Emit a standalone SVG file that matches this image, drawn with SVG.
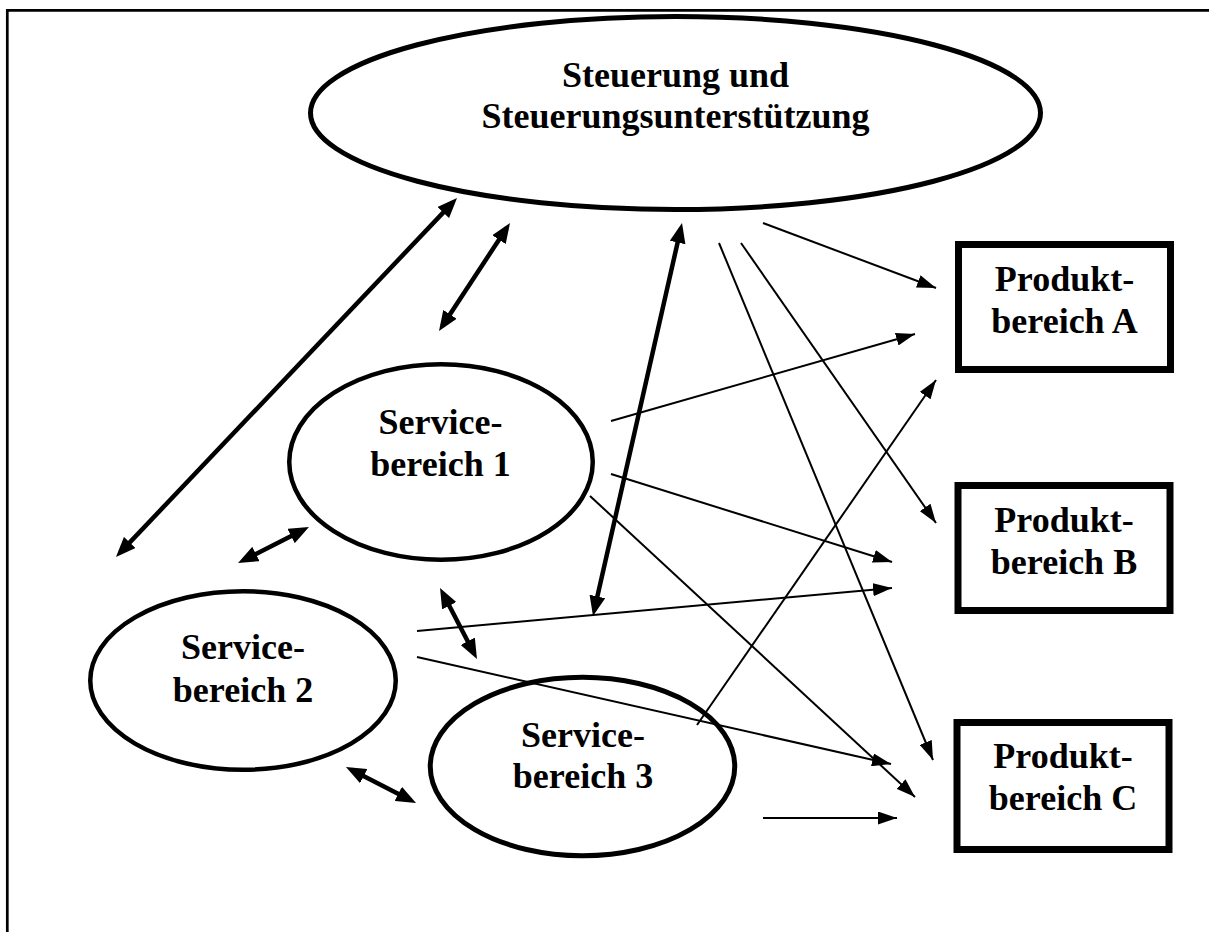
<svg xmlns="http://www.w3.org/2000/svg" width="1209" height="932" viewBox="0 0 1209 932">
<style>
.node{fill:none;stroke:#000}
.lbl{font-family:"Liberation Serif","Times New Roman",serif;font-weight:bold;font-size:36px;fill:#000;text-anchor:middle}
.thick{stroke:#000;fill:none;stroke-width:4.5}
.thin{stroke:#000;fill:none;stroke-width:2}
</style>
<defs>
<marker id="bh" markerUnits="userSpaceOnUse" markerWidth="20" markerHeight="16" refX="14" refY="8" orient="auto-start-reverse">
<path d="M0,0 L20,8 L0,16 z" fill="#000"/>
</marker>
<marker id="th" markerUnits="userSpaceOnUse" markerWidth="19" markerHeight="13" refX="19" refY="6.5" orient="auto">
<path d="M0,0 L19,6.5 L0,13 z" fill="#000"/>
</marker>
</defs>
<rect x="0" y="0" width="1209" height="932" fill="#fff"/>
<path d="M7.3,932 V10.3 H1209" fill="none" stroke="#000" stroke-width="2.7"/>

<g id="steuerung">
<ellipse class="node" cx="675.5" cy="113" rx="365" ry="96.5" stroke-width="5"/>
<text class="lbl" x="675.5" y="87">Steuerung und</text>
<text class="lbl" x="675.5" y="128">Steuerungsunterstützung</text>
</g>
<g id="service1">
<ellipse class="node" cx="441" cy="462" rx="151.75" ry="97.75" stroke-width="4.5"/>
<text class="lbl" x="440.5" y="434">Service-</text>
<text class="lbl" x="440.5" y="476">bereich 1</text>
</g>
<g id="service2">
<ellipse class="node" cx="243" cy="680.5" rx="152.75" ry="89.25" stroke-width="4.5"/>
<text class="lbl" x="243" y="659">Service-</text>
<text class="lbl" x="243" y="702">bereich 2</text>
</g>
<g id="service3">
<ellipse class="node" cx="582.5" cy="766.5" rx="152.25" ry="89.25" stroke-width="5"/>
<text class="lbl" x="583" y="747">Service-</text>
<text class="lbl" x="583" y="788">bereich 3</text>
</g>
<g id="produktA">
<rect class="node" x="958.5" y="244.5" width="212" height="125" stroke-width="7"/>
<text class="lbl" x="1064.5" y="291">Produkt-</text>
<text class="lbl" x="1064.5" y="333">bereich A</text>
</g>
<g id="produktB">
<rect class="node" x="958" y="485.5" width="212" height="125" stroke-width="7"/>
<text class="lbl" x="1064" y="532">Produkt-</text>
<text class="lbl" x="1064" y="574">bereich B</text>
</g>
<g id="produktC">
<rect class="node" x="957" y="722.5" width="212" height="127" stroke-width="7"/>
<text class="lbl" x="1063" y="768">Produkt-</text>
<text class="lbl" x="1063" y="810">bereich C</text>
</g>

<g id="connectors">
<line class="thick" x1="120.1" y1="552.6" x2="452.9" y2="202.4" marker-start="url(#bh)" marker-end="url(#bh)"/>
<line class="thick" x1="442.3" y1="326" x2="506.7" y2="228" stroke-width="4" marker-start="url(#bh)" marker-end="url(#bh)"/>
<line class="thick" x1="594.3" y1="610.1" x2="680.7" y2="228.9" stroke-width="5" marker-start="url(#bh)" marker-end="url(#bh)"/>
<line class="thick" x1="442.8" y1="593.3" x2="474.2" y2="653.7" stroke-width="4" marker-start="url(#bh)" marker-end="url(#bh)"/>
<line class="thick" x1="243.4" y1="560.3" x2="303.6" y2="529.7" stroke-width="4" marker-start="url(#bh)" marker-end="url(#bh)"/>
<line class="thick" x1="351.3" y1="769.7" x2="410.7" y2="800.3" stroke-width="4" marker-start="url(#bh)" marker-end="url(#bh)"/>
<line class="thin" x1="763" y1="223" x2="936" y2="288" marker-end="url(#th)"/>
<line class="thin" x1="719" y1="243" x2="933" y2="760" marker-end="url(#th)"/>
<line class="thin" x1="741" y1="243" x2="936" y2="523" marker-end="url(#th)"/>
<line class="thin" x1="611" y1="421" x2="915" y2="334" marker-end="url(#th)"/>
<line class="thin" x1="611" y1="474" x2="892" y2="562" marker-end="url(#th)"/>
<line class="thin" x1="590" y1="496" x2="915" y2="797" marker-end="url(#th)"/>
<line class="thin" x1="697" y1="725" x2="936" y2="380" marker-end="url(#th)"/>
<line class="thin" x1="417" y1="631" x2="892" y2="588" marker-end="url(#th)"/>
<line class="thin" x1="417" y1="657" x2="891" y2="764" marker-end="url(#th)"/>
<line class="thin" x1="763" y1="818" x2="897" y2="818" stroke-width="2.5" marker-end="url(#th)"/>
</g>
</svg>
